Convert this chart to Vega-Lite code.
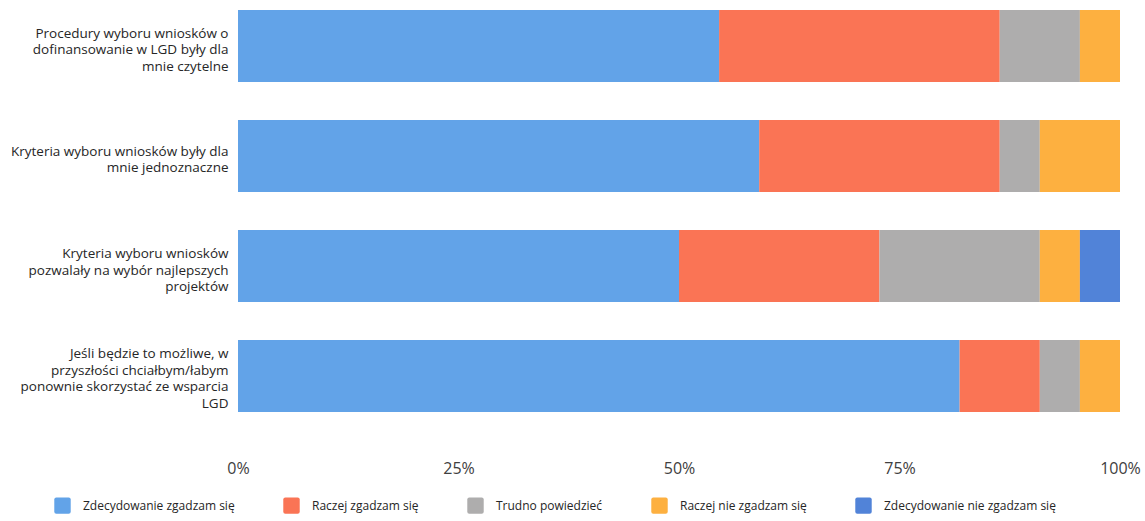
{
  "$schema": "https://vega.github.io/schema/vega-lite/v6.json",
  "autosize": "none",
  "width": 882,
  "height": 422,
  "padding": {"left": 238, "top": 0, "right": 25, "bottom": 99},
  "background": "white",
  "config": {"view": {"stroke": null}, "font": "Open Sans"},
  "data": {
    "values": [
      {"q": "Procedury wyboru wniosków o|dofinansowanie w LGD były dla|mnie czytelne", "a": "Zdecydowanie zgadzam się", "k": 1, "n": 12},
      {"q": "Procedury wyboru wniosków o|dofinansowanie w LGD były dla|mnie czytelne", "a": "Raczej zgadzam się", "k": 2, "n": 7},
      {"q": "Procedury wyboru wniosków o|dofinansowanie w LGD były dla|mnie czytelne", "a": "Trudno powiedzieć", "k": 3, "n": 2},
      {"q": "Procedury wyboru wniosków o|dofinansowanie w LGD były dla|mnie czytelne", "a": "Raczej nie zgadzam się", "k": 4, "n": 1},
      {"q": "Procedury wyboru wniosków o|dofinansowanie w LGD były dla|mnie czytelne", "a": "Zdecydowanie nie zgadzam się", "k": 5, "n": 0},
      {"q": "Kryteria wyboru wniosków były dla|mnie jednoznaczne", "a": "Zdecydowanie zgadzam się", "k": 1, "n": 13},
      {"q": "Kryteria wyboru wniosków były dla|mnie jednoznaczne", "a": "Raczej zgadzam się", "k": 2, "n": 6},
      {"q": "Kryteria wyboru wniosków były dla|mnie jednoznaczne", "a": "Trudno powiedzieć", "k": 3, "n": 1},
      {"q": "Kryteria wyboru wniosków były dla|mnie jednoznaczne", "a": "Raczej nie zgadzam się", "k": 4, "n": 2},
      {"q": "Kryteria wyboru wniosków były dla|mnie jednoznaczne", "a": "Zdecydowanie nie zgadzam się", "k": 5, "n": 0},
      {"q": "Kryteria wyboru wniosków|pozwalały na wybór najlepszych|projektów", "a": "Zdecydowanie zgadzam się", "k": 1, "n": 11},
      {"q": "Kryteria wyboru wniosków|pozwalały na wybór najlepszych|projektów", "a": "Raczej zgadzam się", "k": 2, "n": 5},
      {"q": "Kryteria wyboru wniosków|pozwalały na wybór najlepszych|projektów", "a": "Trudno powiedzieć", "k": 3, "n": 4},
      {"q": "Kryteria wyboru wniosków|pozwalały na wybór najlepszych|projektów", "a": "Raczej nie zgadzam się", "k": 4, "n": 1},
      {"q": "Kryteria wyboru wniosków|pozwalały na wybór najlepszych|projektów", "a": "Zdecydowanie nie zgadzam się", "k": 5, "n": 1},
      {"q": "Jeśli będzie to możliwe, w|przyszłości chciałbym/łabym|ponownie skorzystać ze wsparcia|LGD", "a": "Zdecydowanie zgadzam się", "k": 1, "n": 18},
      {"q": "Jeśli będzie to możliwe, w|przyszłości chciałbym/łabym|ponownie skorzystać ze wsparcia|LGD", "a": "Raczej zgadzam się", "k": 2, "n": 2},
      {"q": "Jeśli będzie to możliwe, w|przyszłości chciałbym/łabym|ponownie skorzystać ze wsparcia|LGD", "a": "Trudno powiedzieć", "k": 3, "n": 1},
      {"q": "Jeśli będzie to możliwe, w|przyszłości chciałbym/łabym|ponownie skorzystać ze wsparcia|LGD", "a": "Raczej nie zgadzam się", "k": 4, "n": 1},
      {"q": "Jeśli będzie to możliwe, w|przyszłości chciałbym/łabym|ponownie skorzystać ze wsparcia|LGD", "a": "Zdecydowanie nie zgadzam się", "k": 5, "n": 0}
    ]
  },
  "mark": {"type": "bar"},
  "encoding": {
    "y": {
      "field": "q",
      "type": "nominal",
      "sort": null,
      "title": null,
      "scale": {"paddingInner": 0.345, "paddingOuter": 0.09},
      "axis": {
        "domain": false,
        "ticks": false,
        "labelPadding": 10,
        "labelLimit": 400,
        "labelFontSize": 13.5,
        "labelColor": "#262626",
        "labelLineHeight": 16.5,
        "labelExpr": "split(datum.label, '|')",
        "labelOffset": {
          "condition": [
            {"test": "length(split(datum.label, '|')) == 2", "value": -4},
            {"test": "length(split(datum.label, '|')) == 4", "value": -22}
          ],
          "value": -12
        }
      }
    },
    "x": {
      "field": "n",
      "type": "quantitative",
      "stack": "normalize",
      "title": null,
      "scale": {"domain": [0, 1], "nice": false},
      "axis": {
        "values": [0, 0.25, 0.5, 0.75, 1],
        "format": ".0%",
        "domain": false,
        "ticks": false,
        "grid": false,
        "labelPadding": 38,
        "labelFontSize": 16,
        "labelColor": "#404040",
        "labelFlush": false
      }
    },
    "order": {"field": "k", "type": "quantitative"},
    "color": {
      "field": "a",
      "type": "nominal",
      "title": null,
      "scale": {
        "domain": ["Zdecydowanie zgadzam się", "Raczej zgadzam się", "Trudno powiedzieć", "Raczej nie zgadzam się", "Zdecydowanie nie zgadzam się"],
        "range": ["#62a3e8", "#fa7455", "#aeadad", "#fdb040", "#5183d8"]
      },
      "legend": {
        "orient": "none",
        "legendX": -184,
        "legendY": 497,
        "direction": "horizontal",
        "columns": 5,
        "symbolType": "M -0.75,-1 L 0.75,-1 Q 1,-1 1,-0.75 L 1,0.75 Q 1,1 0.75,1 L -0.75,1 Q -1,1 -1,0.75 L -1,-0.75 Q -1,-1 -0.75,-1 Z",
        "symbolSize": 270,
        "symbolStrokeWidth": 0,
        "symbolOpacity": 1,
        "labelFontSize": 12,
        "labelColor": "#262626",
        "labelOffset": 12,
        "columnPadding": 48,
        "labelLimit": 300
      }
    }
  }
}
